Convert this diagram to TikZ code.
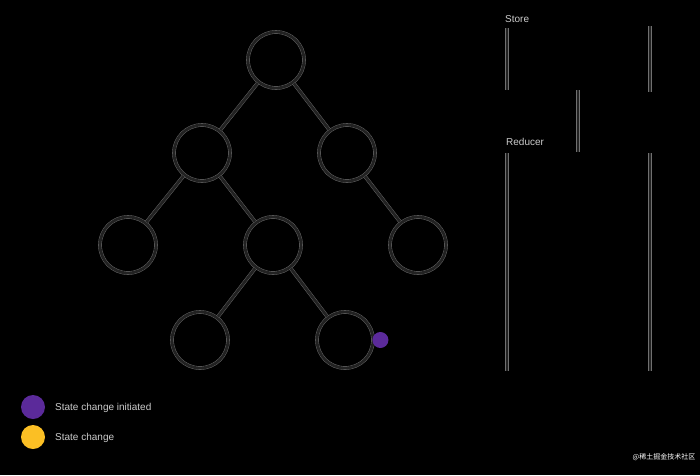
\documentclass[tikz,border=0pt]{standalone}
\usepackage{fontspec}
\setsansfont{Liberation Sans}
\newfontfamily\cjk{Noto Sans CJK SC}
\definecolor{trazo}{HTML}{222222}
\definecolor{halo}{HTML}{707070}
\definecolor{morado}{HTML}{5B2A9A}
\definecolor{amarillo}{HTML}{FBBF24}
\tikzset{
  nodo/.style={circle,minimum size=56pt,inner sep=0pt,draw=trazo,line width=2.8pt,
    preaction={draw=halo,line width=3.6pt}},
  arista/.style={draw=trazo,line width=2.8pt,preaction={draw=halo,line width=3.6pt}},
  barra/.style={draw=trazo,line width=2.6pt,preaction={draw=halo,line width=3.6pt}},
  rotulo/.style={font=\sffamily\fontsize{10}{12}\selectfont,text=white!80!black,inner sep=0pt,anchor=west}
}
\begin{document}
\begin{tikzpicture}[x=1pt,y=-1pt]
  % Fondo
  \fill[black] (0,0) rectangle (700,475);
  \useasboundingbox (0,0) rectangle (700,475);

  % Arbol
  \node[nodo] (raiz) at (276,60) {};
  \node[nodo] (izq) at (202,153) {};
  \node[nodo] (der) at (347,153) {};
  \node[nodo] (izqizq) at (128,245) {};
  \node[nodo] (izqder) at (273,245) {};
  \node[nodo] (derder) at (418,245) {};
  \node[nodo] (hojaA) at (200,340) {};
  \node[nodo] (hojaB) at (345,340) {};

  % Aristas
  \path[arista] (raiz) -- (izq);
  \path[arista] (raiz) -- (der);
  \path[arista] (izq) -- (izqizq);
  \path[arista] (izq) -- (izqder);
  \path[arista] (der) -- (derder);
  \path[arista] (izqder) -- (hojaA);
  \path[arista] (izqder) -- (hojaB);

  % Punto morado junto a la hoja
  \fill[morado] (hojaB.east) ++(6,0) circle (8);

  % Store y Reducer
  \node[rotulo] (store) at (505,19) {Store};
  \node[rotulo] (reducer) at (506,142) {Reducer};
  \path[barra] (507,28) -- (507,90);
  \path[barra] (650,26) -- (650,92);
  \path[barra] (578,90) -- (578,152);
  \path[barra] (507,153) -- (507,371);
  \path[barra] (650,153) -- (650,371);

  % Leyenda
  \fill[morado] (33,407) circle (12);
  \fill[amarillo] (33,437) circle (12);
  \node[rotulo] (inicio) at (55,408) {State change initiated};
  \node[rotulo] (cambio) at (55,438) {State change};

  % Marca de agua
  \node[font=\cjk\fontsize{7}{8}\selectfont,text=white,inner sep=0pt] (marca) at (664,457) {@稀土掘金技术社区};
\end{tikzpicture}
\end{document}
